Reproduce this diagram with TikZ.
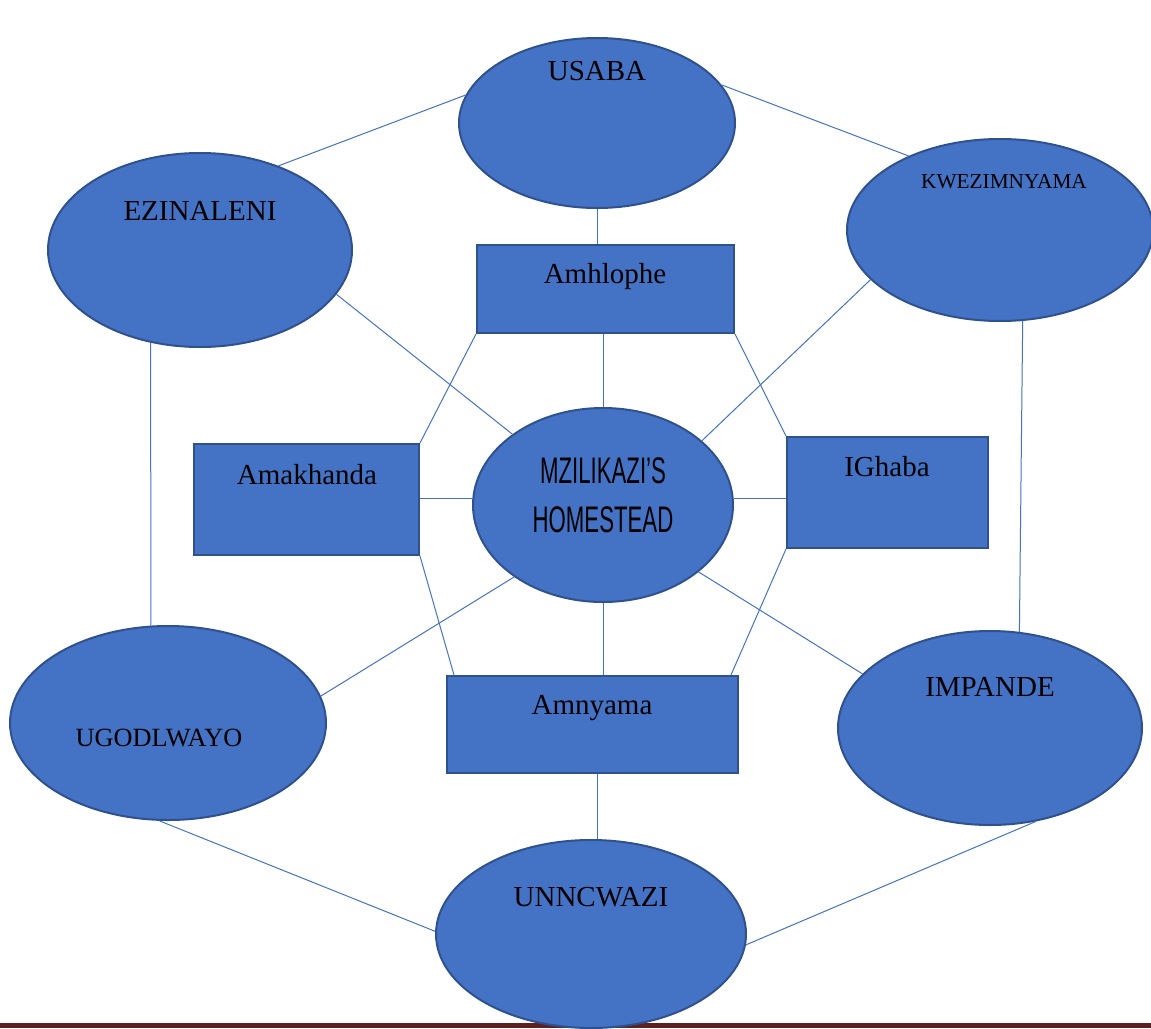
\documentclass[tikz,border=0pt]{standalone}
\usepackage{fontspec}
\usepackage{graphicx}
\setmainfont{Liberation Serif}
\newfontfamily\headfont{Liberation Sans}
\usetikzlibrary{shapes.geometric,calc}
\definecolor{fillblue}{HTML}{4472C4}
\definecolor{edgeblue}{HTML}{2F528F}
\definecolor{barred}{HTML}{5F2120}
\tikzset{
  zone/.style={ellipse, draw=edgeblue, line width=2pt, fill=fillblue, inner sep=0pt},
  hut/.style={rectangle, draw=edgeblue, line width=2pt, fill=fillblue, inner sep=0pt},
  link/.style={draw=fillblue, line width=1pt},
  lbl/.style={anchor=base, inner sep=0pt, font=\fontsize{29}{34}\selectfont},
}
\begin{document}
\begin{tikzpicture}[x=1pt,y=-1pt]
\useasboundingbox (0,0) rectangle (1151,1028);

% rule along the foot of the page
\fill[barred] (0,1023) rectangle (1151,1028);

% outer ring of areas
\node[zone, minimum width=276pt, minimum height=170pt] (U) at (597,123) {};
\node[zone, minimum width=306pt, minimum height=182pt] (K) at (1000,230) {};
\node[zone, minimum width=304pt, minimum height=194pt] (E) at (200,250) {};
\node[zone, minimum width=316pt, minimum height=194pt] (G) at (168,723) {};
\node[zone, minimum width=304pt, minimum height=194pt] (I) at (990,728) {};
\node[zone, minimum width=310pt, minimum height=188pt] (N) at (591,934) {};

% the homestead in the middle
\node[zone, minimum width=260pt, minimum height=194pt] (C) at (603,505) {};

% inner blocks
\node[hut, minimum width=257pt, minimum height=88pt] (Ah) at (605.5,289) {};
\node[hut, minimum width=225pt, minimum height=111pt] (Ak) at (306.5,499.5) {};
\node[hut, minimum width=201pt, minimum height=111pt] (Ig) at (887.5,492.5) {};
\node[hut, minimum width=291pt, minimum height=97pt] (Am) at (592.5,724.5) {};

% labels
\node[lbl] (tU) at (597,80.5) {USABA};
\node[lbl, font=\fontsize{21.3}{26}\selectfont] (tK) at (1004,188.5) {KWEZIMNYAMA};
\node[lbl] (tE) at (200,220) {EZINALENI};
\node[lbl, font=\fontsize{26.3}{31}\selectfont] (tG) at (159,746.5) {UGODLWAYO};
\node[lbl] (tI) at (990,696) {IMPANDE};
\node[lbl] (tN) at (591,906.5) {UNNCWAZI};
\node[lbl] (tAh) at (605,283.5) {Amhlophe};
\node[lbl] (tAk) at (307,484.5) {Amakhanda};
\node[lbl] (tIg) at (887,476.5) {IGhaba};
\node[lbl] (tAm) at (592,714.5) {Amnyama};
\node[anchor=base, inner sep=0pt, align=center, font=\headfont\fontsize{37}{49}\selectfont]
  (tC) at (603,532) {\scalebox{0.6}[1]{MZILIKAZI’S}\\\scalebox{0.6}[1]{HOMESTEAD}};

% connections
\draw[link] (E.47.9) -- (U.168.9);
\draw[link] (U.17.1) -- (K.141.3);
\draw[link] (U.south) -- (U.south |- Ah.north);
\draw[link] (C.north |- Ah.south) -- (C.north);
\draw[link] (E.-18.2) -- (C.142.4);
\draw[link] (K.201.8) -- (C.33.8);
\draw[link] (Ah.south west) -- (Ak.north east);
\draw[link] (Ah.south east) -- (Ig.north west);
\draw[link] (C.177 -| Ak.east) -- (C.177);
\draw[link] (C.3) -- (C.3 -| Ig.west);
\draw[link] (E.242.9) -- (G.100);
\draw[link] (K.-76.4) -- (I.73.2);
\draw[link] (Ak.south east) -- ([xshift=8pt]Am.north west);
\draw[link] (Ig.south west) -- ([xshift=-8pt]Am.north east);
\draw[link] (C.219.8) -- (G.10.4);
\draw[link] (C.-35.9) -- (I.157.1);
\draw[link] (C.south) -- (C.south |- Am.north);
\draw[link] (N.86.3 |- Am.south) -- (N.86.3);
\draw[link] (G.265.3) -- (N.179.3);
\draw[link] (N.-4.5) -- (I.-64.7);
\end{tikzpicture}
\end{document}
